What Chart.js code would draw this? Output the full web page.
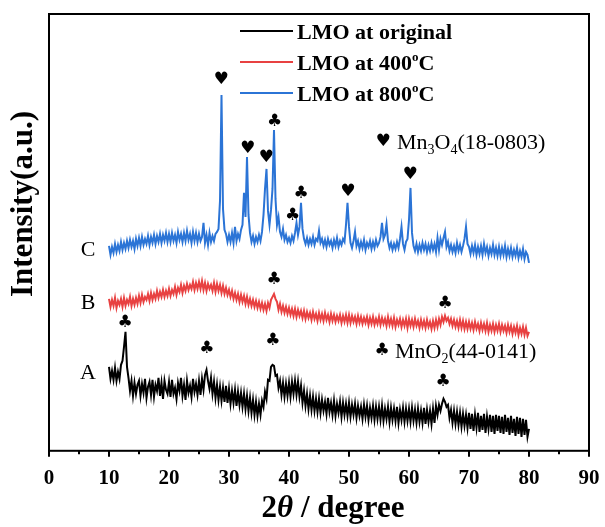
<!DOCTYPE html>
<html lang="en">
<head>
<meta charset="UTF-8">
<title>XRD of LMO</title>
<script src="https://cdn.jsdelivr.net/npm/chart.js"></script>
<style>
  html, body { margin: 0; padding: 0; background: #fff; }
  .chart-box { width: 605px; height: 527px; position: relative; }
</style>
</head>
<body>
<div class="chart-box"><canvas id="xrdChart"></canvas></div>
<script>
// 2theta grid: 10 .. 80 degree, every 0.25 degree
const thetaStart = 10;
const thetaStep = 0.25;

// A: LMO at original (black)
const intensityA = [
  84, 72, 80, 71, 83, 70, 79, 72, 86, 90, 104, 119, 84, 73, 60, 70, 55, 68, 57, 66,
  70, 55, 67, 58, 72, 53, 64, 69, 56, 71, 54, 66, 60, 73, 55, 68, 52, 70, 61, 57,
  69, 54, 71, 57, 63, 52, 68, 60, 73, 55, 66, 51, 70, 58, 65, 54, 72, 59, 67, 56,
  70, 56, 72, 61, 76, 81, 70, 62, 73, 57, 69, 53, 66, 51, 64, 50, 63, 49, 65, 48,
  62, 47, 60, 48, 61, 45, 59, 46, 58, 44, 57, 42, 55, 40, 53, 38, 51, 36, 49, 35,
  47, 36, 50, 44, 59, 52, 71, 70, 84, 86, 85, 75, 76, 63, 70, 56, 68, 54, 67, 55,
  68, 54, 69, 57, 70, 56, 69, 54, 65, 48, 60, 45, 57, 42, 55, 41, 54, 40, 52, 39,
  52, 38, 51, 40, 49, 37, 53, 39, 48, 36, 50, 35, 47, 38, 49, 34, 48, 36, 47, 35,
  48, 34, 46, 36, 47, 33, 45, 35, 44, 32, 46, 34, 45, 31, 43, 33, 45, 31, 44, 32,
  44, 31, 45, 30, 42, 32, 44, 29, 43, 31, 42, 30, 44, 28, 41, 31, 43, 29, 42, 30,
  42, 29, 43, 30, 41, 28, 42, 29, 40, 28, 43, 27, 41, 29, 40, 27, 42, 28, 45, 36,
  46, 40, 47, 52, 49, 44, 46, 33, 41, 28, 40, 27, 39, 26, 38, 24, 37, 25, 36, 23,
  38, 22, 37, 20, 36, 23, 38, 19, 35, 21, 37, 18, 34, 22, 36, 19, 35, 17, 36, 20,
  35, 18, 34, 17, 36, 19, 33, 16, 35, 18, 32, 15, 34, 17, 33, 14, 32, 16, 31, 14,
  22
];

// B: LMO at 400 C (red)
const intensityB = [
  152, 144, 151, 145, 153, 143, 150, 146, 152, 144, 153, 145, 151, 147, 154, 145, 152, 146, 153, 147,
  155, 148, 156, 149, 154, 151, 157, 150, 158, 151, 157, 152, 160, 153, 159, 154, 161, 154, 160, 155,
  162, 155, 161, 157, 164, 156, 163, 159, 166, 158, 165, 160, 167, 161, 166, 162, 169, 161, 168, 162,
  169, 162, 170, 161, 168, 160, 167, 162, 166, 160, 168, 159, 167, 160, 166, 158, 165, 157, 163, 156,
  161, 154, 160, 152, 158, 151, 157, 149, 156, 149, 155, 147, 154, 146, 152, 145, 151, 144, 150, 143,
  149, 142, 148, 141, 147, 140, 148, 143, 151, 154, 157, 152, 149, 141, 147, 139, 145, 138, 144, 137,
  143, 136, 142, 135, 142, 134, 141, 135, 140, 133, 140, 132, 139, 133, 138, 131, 139, 132, 137, 130,
  138, 131, 137, 130, 138, 131, 136, 129, 137, 130, 136, 129, 135, 130, 136, 128, 135, 129, 136, 128,
  136, 128, 135, 129, 134, 127, 135, 128, 134, 127, 133, 128, 134, 126, 133, 127, 134, 126, 132, 127,
  134, 126, 133, 127, 132, 125, 134, 126, 132, 125, 133, 124, 131, 126, 132, 124, 131, 125, 132, 123,
  132, 125, 131, 124, 132, 125, 130, 123, 131, 124, 130, 123, 131, 124, 129, 122, 130, 123, 131, 124,
  132, 126, 134, 129, 135, 130, 133, 127, 132, 125, 131, 124, 130, 123, 131, 123, 130, 122, 129, 122,
  129, 122, 128, 121, 129, 122, 127, 120, 128, 121, 127, 120, 128, 119, 126, 120, 127, 119, 126, 120,
  127, 119, 126, 120, 125, 118, 126, 119, 125, 117, 124, 118, 125, 116, 123, 117, 124, 116, 123, 115,
  119
];

// C: LMO at 800 C (blue)
const intensityC = [
  205, 196, 204, 198, 207, 199, 206, 200, 209, 201, 208, 202, 210, 203, 211, 204, 210, 202, 212, 205,
  213, 205, 214, 206, 212, 207, 215, 206, 214, 208, 216, 207, 215, 209, 217, 208, 216, 210, 218, 209,
  217, 209, 218, 210, 216, 208, 219, 211, 217, 209, 218, 210, 220, 211, 217, 208, 219, 210, 218, 209,
  217, 210, 214, 228, 208, 216, 206, 218, 209, 215, 210, 217, 219, 222, 250, 356, 242, 221, 217, 209,
  216, 209, 218, 208, 224, 210, 217, 212, 221, 226, 258, 234, 294, 236, 218, 209, 215, 207, 214, 209,
  216, 210, 219, 236, 262, 282, 240, 226, 241, 262, 321, 252, 226, 234, 219, 214, 222, 211, 216, 209,
  213, 208, 215, 210, 218, 228, 216, 224, 248, 222, 212, 207, 213, 206, 212, 207, 214, 206, 212, 210,
  220, 208, 212, 205, 211, 204, 212, 206, 210, 203, 211, 205, 213, 204, 210, 206, 212, 209, 226, 248,
  224, 208, 203, 210, 219, 205, 210, 202, 209, 203, 211, 201, 208, 204, 210, 202, 209, 203, 211, 205,
  208, 214, 228, 212, 216, 227, 210, 203, 208, 201, 207, 202, 209, 203, 212, 224, 207, 201, 209, 212,
  231, 263, 218, 205, 200, 207, 199, 206, 200, 208, 201, 207, 199, 206, 200, 208, 201, 207, 199, 213,
  201, 212, 206, 213, 219, 204, 209, 200, 206, 199, 205, 198, 208, 200, 206, 199, 205, 212, 224, 207,
  204, 197, 205, 198, 206, 196, 204, 197, 205, 196, 207, 198, 204, 195, 203, 197, 206, 196, 203, 195,
  204, 195, 203, 196, 205, 194, 202, 195, 203, 194, 201, 195, 203, 193, 200, 194, 202, 192, 199, 196,
  188
];

const seriesColors = ['#000000', '#e84141', '#2b74d6'];
const curveLabels = ['A', 'B', 'C'];
const curveLabelLevel = [78, 148, 201];

// peak markers: position (2theta), height, symbol
const markerTheta  = [28.7, 33.1, 36.2, 37.6, 40.6, 42.0, 49.8, 60.2, 37.5, 66.0, 12.7, 26.3, 37.3, 65.7];
const markerLevel  = [371, 302, 293, 329, 235, 257, 259, 276, 171, 147, 128, 102, 110, 69];
const markerSymbol = ['♥', '♥', '♥', '♣', '♣', '♣', '♥', '♥', '♣', '♣', '♣', '♣', '♣', '♣'];

const serif = 'Liberation Serif';

function toPoints(values) {
    return values.map((v, i) => ({ x: thetaStart + i * thetaStep, y: v }));
}

// draw text pieces one after another (for sub / superscripts)
function drawRuns(ctx, runs, x, y, align) {
    let total = 0;
    runs.forEach(r => { ctx.font = r[1]; total += ctx.measureText(r[0]).width; });
    let cx = align === 'center' ? x - total / 2 : x;
    runs.forEach(r => {
        ctx.font = r[1];
        ctx.fillText(r[0], cx, y + (r[2] || 0));
        cx += ctx.measureText(r[0]).width;
    });
}

const decorPlugin = {
    id: 'decor',
    afterDraw(chart) {
        const { ctx, chartArea: a, scales: { x, y } } = chart;
        ctx.save();
        ctx.fillStyle = '#000';
        ctx.strokeStyle = '#000';

        // frame
        ctx.lineWidth = 2;
        ctx.strokeRect(a.left, a.top, a.right - a.left, a.bottom - a.top);

        // tick marks, major every 10, minor every 5
        for (let v = 0; v <= 90; v += 5) {
            const px = x.getPixelForValue(v);
            ctx.beginPath();
            ctx.moveTo(px, a.bottom);
            ctx.lineTo(px, a.bottom + (v % 10 === 0 ? 6 : 3.5));
            ctx.stroke();
        }

        // axis titles
        ctx.textAlign = 'left';
        ctx.textBaseline = 'alphabetic';
        drawRuns(ctx, [
            ['2', 'bold 31px ' + serif],
            ['θ', 'bold italic 31px ' + serif],
            [' / degree', 'bold 31px ' + serif]
        ], 333, 517, 'center');

        ctx.save();
        ctx.translate(24, 204);
        ctx.rotate(-Math.PI / 2);
        ctx.font = 'bold 31px ' + serif;
        ctx.textAlign = 'center';
        ctx.textBaseline = 'middle';
        ctx.fillText('Intensity(a.u.)', 0, 0);
        ctx.restore();

        // legend
        const legendRows = [
            [['LMO at original', 'bold 22px ' + serif]],
            [['LMO at 400', 'bold 22px ' + serif], ['o', 'bold 13px ' + serif, -9], ['C', 'bold 22px ' + serif]],
            [['LMO at 800', 'bold 22px ' + serif], ['o', 'bold 13px ' + serif, -9], ['C', 'bold 22px ' + serif]]
        ];
        legendRows.forEach((runs, i) => {
            const ly = 31 + i * 31;
            ctx.strokeStyle = seriesColors[i];
            ctx.lineWidth = 2;
            ctx.beginPath();
            ctx.moveTo(240, ly);
            ctx.lineTo(293, ly);
            ctx.stroke();
            ctx.textAlign = 'left';
            ctx.textBaseline = 'alphabetic';
            drawRuns(ctx, runs, 297, ly + 7.5, 'left');
        });

        // curve labels A B C
        ctx.font = '22px ' + serif;
        ctx.textAlign = 'center';
        ctx.textBaseline = 'middle';
        curveLabels.forEach((t, i) => {
            ctx.fillText(t, x.getPixelForValue(6.5), y.getPixelForValue(curveLabelLevel[i]));
        });

        // peak markers
        ctx.font = '17px "DejaVu Sans"';
        markerTheta.forEach((t, i) => {
            ctx.fillText(markerSymbol[i], x.getPixelForValue(t), y.getPixelForValue(markerLevel[i]));
        });

        // phase keys
        ctx.fillText('♥', 383, 142);
        ctx.fillText('♣', 382, 351);
        ctx.textAlign = 'left';
        ctx.textBaseline = 'alphabetic';
        drawRuns(ctx, [
            ['Mn', '22px ' + serif], ['3', '14px ' + serif, 5], ['O', '22px ' + serif],
            ['4', '14px ' + serif, 5], ['(18-0803)', '22px ' + serif]
        ], 397, 149, 'left');
        drawRuns(ctx, [
            ['MnO', '22px ' + serif], ['2', '14px ' + serif, 5], ['(44-0141)', '22px ' + serif]
        ], 395, 358, 'left');

        ctx.restore();
    }
};

const datasets = [intensityA, intensityB, intensityC].map((vals, i) => ({
    data: toPoints(vals),
    borderColor: seriesColors[i],
    borderWidth: 2,
    pointRadius: 0,
    tension: 0,
    fill: false
}));

new Chart(document.getElementById('xrdChart'), {
    type: 'line',
    data: { datasets },
    options: {
        responsive: true,
        maintainAspectRatio: false,
        animation: false,
        layout: { padding: { left: 49, right: 16, top: 14, bottom: 21 } },
        plugins: { legend: { display: false }, tooltip: { enabled: false } },
        scales: {
            x: {
                type: 'linear', min: 0, max: 90,
                grid: { display: false, drawTicks: false },
                border: { display: false },
                ticks: {
                    stepSize: 10, color: '#000', padding: 15,
                    font: { family: serif, size: 21, weight: 'bold' }
                },
                // keep the end labels from pushing the plot frame inward
                afterFit(scale) {
                    scale.paddingLeft = 0;
                    scale.paddingRight = 0;
                }
            },
            y: { display: false, min: 0, max: 437 }
        }
    },
    plugins: [decorPlugin]
});
</script>
</body>
</html>
